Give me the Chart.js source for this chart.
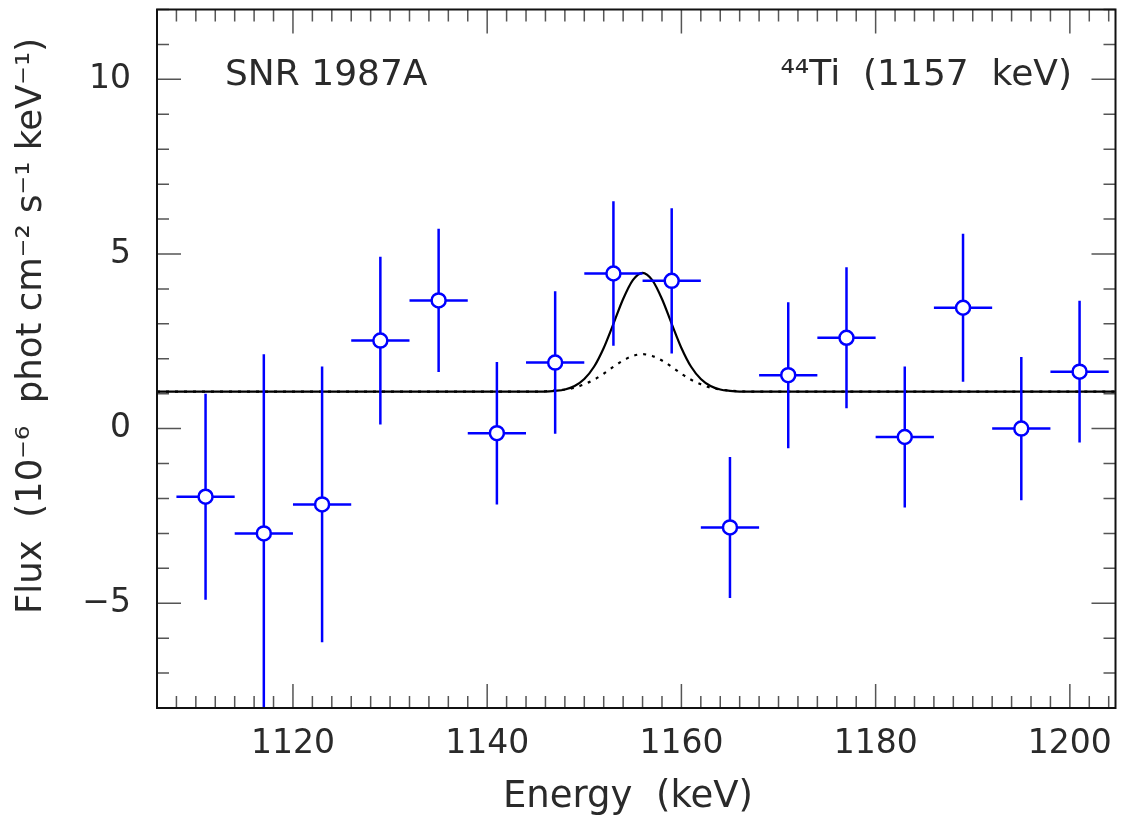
<!DOCTYPE html>
<html>
<head>
<meta charset="utf-8">
<script src="https://cdn.jsdelivr.net/npm/chart.js@4.4.1/dist/chart.umd.min.js"></script>
<style>
  html, body { margin: 0; padding: 0; background: #fff; }
  canvas { display: block; }
</style>
</head>
<body>
<canvas id="myChart" width="1125" height="823"></canvas>
<script>
// Measured spectrum (SPI bins, 6 keV wide)
const energy = [1111, 1117, 1123, 1129, 1135, 1141, 1147, 1153, 1159, 1165, 1171, 1177, 1183, 1189, 1195, 1201];
const flux = [-1.95, -3.00, -2.17, 2.52, 3.67, -0.13, 1.89, 4.44, 4.23, -2.83, 1.53, 2.60, -0.24, 3.46, 0.00, 1.63];
const fluxErr = [2.95, 5.13, 3.95, 2.40, 2.05, 2.04, 2.04, 2.07, 2.08, 2.02, 2.09, 2.02, 2.02, 2.12, 2.05, 2.03];
const binHalf = [3, 3, 3, 3, 3, 3, 3, 3, 3, 3, 3, 3, 3, 3, 3, 3];

// Model curves
const modelE = [1106, 1146, 1147, 1148, 1149, 1150, 1151, 1152, 1153, 1154, 1155, 1156, 1157, 1158, 1159, 1160, 1161, 1162, 1163, 1164, 1165, 1166, 1204.7];
const modelFit = [1.06, 1.06, 1.08, 1.12, 1.22, 1.42, 1.77, 2.31, 3.00, 3.71, 4.25, 4.46, 4.25, 3.71, 3.00, 2.31, 1.77, 1.42, 1.22, 1.12, 1.08, 1.06, 1.06];
const modelE2 = [1106, 1145, 1146, 1147, 1148, 1149, 1150, 1151, 1152, 1153, 1154, 1155, 1156, 1157, 1158, 1159, 1160, 1161, 1162, 1163, 1164, 1165, 1166, 1167, 1204.7];
const modelAlt = [1.06, 1.06, 1.07, 1.09, 1.12, 1.17, 1.27, 1.40, 1.57, 1.77, 1.95, 2.08, 2.13, 2.08, 1.95, 1.77, 1.57, 1.40, 1.27, 1.17, 1.12, 1.09, 1.07, 1.06, 1.06];

const xTicks = [1120, 1140, 1160, 1180, 1200];
const yTicks = [-5, 0, 5, 10];

const BLUE = '#0000ff';
const FONT = 'DejaVu Sans';
const TEXT = '#2a2a2a';

// error bars, drawn just before the points so circles sit on top
const errorBars = {
  id: 'errorBars',
  beforeDatasetDraw(chart, args) {
    if (args.index !== 0) return;
    const { ctx, chartArea: a, scales: { x, y } } = chart;
    ctx.save();
    ctx.beginPath();
    ctx.rect(a.left, a.top, a.right - a.left, a.bottom - a.top);
    ctx.clip();
    ctx.strokeStyle = BLUE;
    ctx.lineWidth = 2.5;
    energy.forEach((e, i) => {
      const px = x.getPixelForValue(e);
      const py = y.getPixelForValue(flux[i]);
      ctx.beginPath();
      ctx.moveTo(px, y.getPixelForValue(flux[i] - fluxErr[i]));
      ctx.lineTo(px, y.getPixelForValue(flux[i] + fluxErr[i]));
      ctx.moveTo(x.getPixelForValue(e - binHalf[i]), py);
      ctx.lineTo(x.getPixelForValue(e + binHalf[i]), py);
      ctx.stroke();
    });
    ctx.restore();
  }
};

// box, inward ticks on all sides, labels
const frame = {
  id: 'frame',
  afterDraw(chart) {
    const { ctx, chartArea: a, scales: { x, y } } = chart;
    ctx.save();
    ctx.strokeStyle = '#555';
    ctx.lineWidth = 1.5;
    ctx.beginPath();
    for (let v = Math.ceil(x.min / 2) * 2; v <= x.max; v += 2) {
      const px = x.getPixelForValue(v);
      const len = v % 20 === 0 ? 24 : 12;
      ctx.moveTo(px, a.bottom); ctx.lineTo(px, a.bottom - len);
      ctx.moveTo(px, a.top); ctx.lineTo(px, a.top + len);
    }
    for (let v = Math.ceil(y.min); v <= y.max; v += 1) {
      const py = y.getPixelForValue(v);
      const len = v % 5 === 0 ? 24 : 12;
      ctx.moveTo(a.left, py); ctx.lineTo(a.left + len, py);
      ctx.moveTo(a.right, py); ctx.lineTo(a.right - len, py);
    }
    ctx.stroke();

    ctx.strokeStyle = '#111';
    ctx.lineWidth = 2;
    ctx.strokeRect(a.left, a.top, a.right - a.left, a.bottom - a.top);

    ctx.fillStyle = TEXT;
    ctx.textBaseline = 'middle';

    // tick labels
    ctx.font = '33px "' + FONT + '"';
    ctx.textAlign = 'center';
    xTicks.forEach(v => ctx.fillText(String(v), x.getPixelForValue(v), a.bottom + 36));
    ctx.textAlign = 'right';
    yTicks.forEach(v => ctx.fillText(v < 0 ? '\u2212' + Math.abs(v) : String(v), a.left - 26, y.getPixelForValue(v)));

    ctx.font = '36px "' + FONT + '"';
    ctx.textAlign = 'left';
    ctx.fillText('SNR 1987A', 225, 76);
    ctx.textAlign = 'right';
    ctx.fillText('\u2074\u2074Ti  (1157  keV)', 1072, 76);

    ctx.font = '37px "' + FONT + '"';
    ctx.textAlign = 'center';
    ctx.fillText('Energy  (keV)', 628, 797);

    ctx.font = '35.5px "' + FONT + '"';
    ctx.translate(32, 326);
    ctx.rotate(-Math.PI / 2);
    ctx.fillText('Flux  (10\u207B\u2076  phot cm\u207B\u00B2 s\u207B\u00B9 keV\u207B\u00B9)', 0, 0);
    ctx.restore();
  }
};

const chart = new Chart(document.getElementById('myChart'), {
  type: 'scatter',
  data: {
    datasets: [{
      label: 'data',
      data: energy.map((e, i) => ({ x: e, y: flux[i] })),
      pointRadius: 7,
      pointHoverRadius: 7,
      pointBackgroundColor: '#fff',
      pointBorderColor: BLUE,
      pointBorderWidth: 2.5,
      showLine: false,
      order: 0
    }, {
      label: 'fit',
      data: modelE.map((e, i) => ({ x: e, y: modelFit[i] })),
      showLine: true,
      borderColor: '#000',
      borderWidth: 2.2,
      pointRadius: 0,
      cubicInterpolationMode: 'monotone',
      order: 1
    }, {
      label: 'alt',
      data: modelE2.map((e, i) => ({ x: e, y: modelAlt[i] })),
      showLine: true,
      borderColor: '#000',
      borderWidth: 2.2,
      borderDash: [3, 6],
      pointRadius: 0,
      cubicInterpolationMode: 'monotone',
      order: 2
    }]
  },
  options: {
    responsive: false,
    animation: false,
    devicePixelRatio: 1,
    layout: { padding: { left: 0, top: 5, right: 5, bottom: 0 } },
    plugins: { legend: { display: false }, tooltip: { enabled: false } },
    scales: {
      x: {
        type: 'linear',
        min: 1106,
        max: 1204.7,
        grid: { display: false, drawTicks: false },
        border: { display: false },
        ticks: { display: false },
        afterFit: s => { s.height = 115; }
      },
      y: {
        type: 'linear',
        min: -8,
        max: 12,
        grid: { display: false, drawTicks: false },
        border: { display: false },
        ticks: { display: false },
        afterFit: s => { s.width = 157; }
      }
    }
  },
  plugins: [errorBars, frame]
});
</script>
</body>
</html>
